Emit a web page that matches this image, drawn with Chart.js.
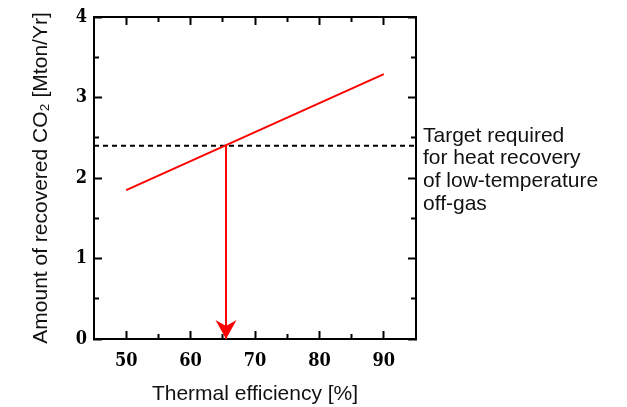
<!DOCTYPE html>
<html>
<head>
<meta charset="utf-8">
<title>Recovered CO2 vs thermal efficiency</title>
<script src="https://cdn.jsdelivr.net/npm/chart.js@4.4.1/dist/chart.umd.min.js"></script>
<style>
  html, body { margin: 0; padding: 0; background: #fff; }
  #wrap { width: 627px; height: 407px; }
</style>
</head>
<body>
<div id="wrap"><canvas id="chart" width="627" height="407"></canvas></div>
<script>
// values
const efficiency = [50, 90];
const recoveredCO2 = [1.85, 3.29];
const targetLevel = 2.4;
const targetSpan = [45, 95];
const arrowX = 65.5;
const arrowSpan = [2.4, 0];
const noteLines = ["Target required", "for heat recovery", "of low-temperature", "off-gas"];

// axes
const xRange = [45, 95];
const yRange = [0, 4];
const xMajorTicks = [50, 60, 70, 80, 90];
const xMinorTicks = [55, 65, 75, 85];
const yMajorTicks = [0, 1, 2, 3, 4];
const yMinorTicks = [0.5, 1.5, 2.5, 3.5];

const sansFont = '"Liberation Sans", Arial, sans-serif';
const serifFont = '"DejaVu Serif Condensed", "DejaVu Serif", serif';

// one axis = one set of inward tick marks (majors longer than minors)
function tickAxis(position, range, ticks, len, weight, size) {
    return {
        type: 'linear',
        position: position,
        min: range[0],
        max: range[1],
        weight: weight,
        afterBuildTicks: s => { s.ticks = ticks.map(v => ({ value: v })); },
        afterFit: s => {
            if (position === 'top' || position === 'bottom') s.height = size;
            else s.width = size;
            // keep the plot box where the layout padding puts it
            s.paddingTop = s.paddingBottom = s.paddingLeft = s.paddingRight = 0;
        },
        border: { display: true, color: '#000', width: 2 },
        grid: {
            display: true, drawOnChartArea: false, drawTicks: true,
            tickLength: len, tickWidth: 2, tickColor: '#000'
        },
        ticks: { display: false }
    };
}

const xAxis = tickAxis('bottom', xRange, xMajorTicks, -8, 1, 68);
xAxis.ticks = {
    display: true, padding: 20, color: '#000', maxRotation: 0,
    font: { family: serifFont, size: 18, weight: 'bold' },
    callback: v => String(v)
};
xAxis.title = {
    display: true, text: 'Thermal efficiency [%]', color: '#111',
    font: { family: sansFont, size: 21 }, padding: { top: 0, bottom: 0 }
};

const yAxis = tickAxis('left', yRange, yMajorTicks, -8, 1, 94);
yAxis.ticks = {
    display: true, padding: 15, color: '#000',
    font: { family: serifFont, size: 18, weight: 'bold' },
    callback: v => String(v)
};
yAxis.title = {
    display: true, text: 'Amount of recovered CO\u2082 [Mton/Yr]', color: '#111',
    font: { family: sansFont, size: 21 }, padding: { top: 29, bottom: 0 }
};

// arrow head + note text
const decorations = {
    id: 'decorations',
    afterDatasetsDraw(chart) {
        const { ctx, chartArea, scales: { x, y } } = chart;
        const tipX = x.getPixelForValue(arrowX);
        const tipY = y.getPixelForValue(arrowSpan[1]);
        ctx.save();
        ctx.fillStyle = '#ff0000';
        ctx.beginPath();
        ctx.moveTo(tipX, tipY);
        ctx.lineTo(tipX - 10.5, tipY - 19);
        ctx.lineTo(tipX, tipY - 13);
        ctx.lineTo(tipX + 10.5, tipY - 19);
        ctx.closePath();
        ctx.fill();

        ctx.fillStyle = '#111';
        ctx.font = '21px ' + sansFont;
        ctx.textAlign = 'left';
        ctx.textBaseline = 'alphabetic';
        const base = y.getPixelForValue(targetLevel) - 4;
        noteLines.forEach((t, i) => ctx.fillText(t, chartArea.right + 7, base + i * 22.6));
        ctx.restore();
    }
};

new Chart(document.getElementById('chart'), {
    type: 'line',
    data: {
        datasets: [
            {
                data: efficiency.map((v, i) => ({ x: v, y: recoveredCO2[i] })),
                borderColor: '#ff0000', borderWidth: 2, pointRadius: 0
            },
            {
                data: targetSpan.map(v => ({ x: v, y: targetLevel })),
                borderColor: '#000', borderWidth: 2, borderDash: [5, 4], pointRadius: 0
            },
            {
                data: arrowSpan.map(v => ({ x: arrowX, y: v })),
                borderColor: '#ff0000', borderWidth: 2, pointRadius: 0
            }
        ]
    },
    options: {
        responsive: false,
        animation: false,
        devicePixelRatio: 1,
        events: [],
        layout: { padding: { top: 17, right: 211, bottom: 0, left: 0 } },
        plugins: { legend: { display: false }, tooltip: { enabled: false } },
        scales: {
            x: xAxis,
            xMinor: tickAxis('bottom', xRange, xMinorTicks, -5, 0, 0),
            xTop: tickAxis('top', xRange, xMajorTicks, -8, 0, 0),
            xTopMinor: tickAxis('top', xRange, xMinorTicks, -5, 0, 0),
            y: yAxis,
            yMinor: tickAxis('left', yRange, yMinorTicks, -5, 0, 0),
            yRight: tickAxis('right', yRange, yMajorTicks, -8, 0, 0),
            yRightMinor: tickAxis('right', yRange, yMinorTicks, -5, 0, 0)
        }
    },
    plugins: [decorations]
});
</script>
</body>
</html>
